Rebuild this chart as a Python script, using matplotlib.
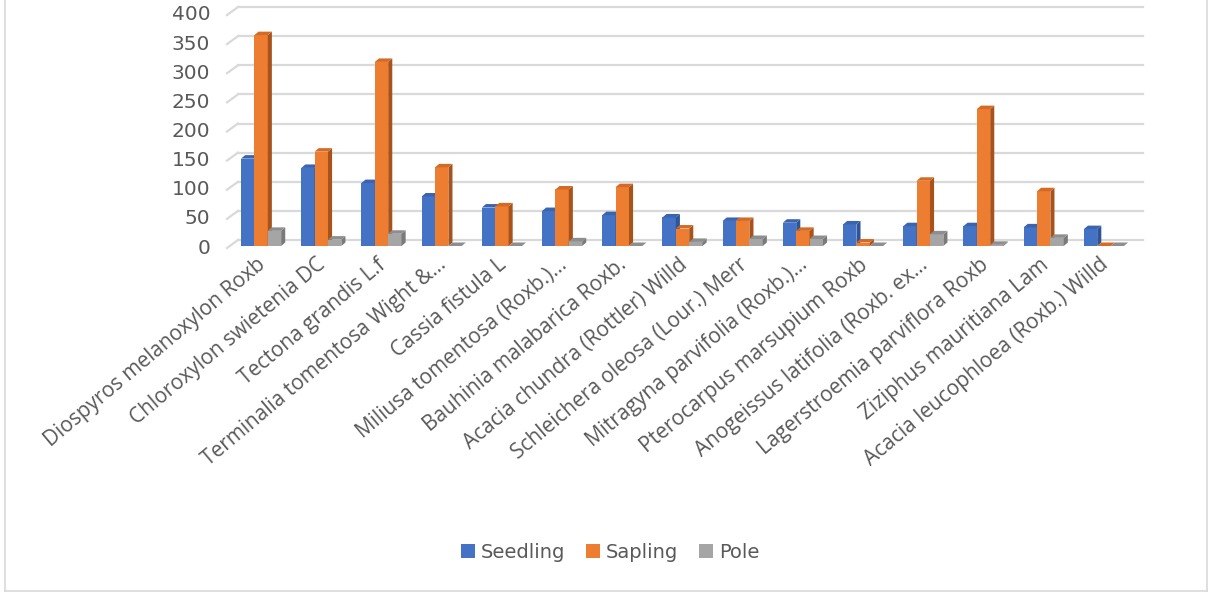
import numpy as np
import matplotlib
matplotlib.use("Agg")
import matplotlib.pyplot as plt
from matplotlib.patches import Polygon, Rectangle
from matplotlib.lines import Line2D
from matplotlib.transforms import ScaledTranslation

species = [
    "Diospyros melanoxylon Roxb",
    "Chloroxylon swietenia DC",
    "Tectona grandis L.f",
    "Terminalia tomentosa Wight &...",
    "Cassia fistula L",
    "Miliusa tomentosa (Roxb.)...",
    "Bauhinia malabarica Roxb.",
    "Acacia chundra (Rottler) Willd",
    "Schleichera oleosa (Lour.) Merr",
    "Mitragyna parvifolia (Roxb.)...",
    "Pterocarpus marsupium Roxb",
    "Anogeissus latifolia (Roxb. ex...",
    "Lagerstroemia parviflora Roxb",
    "Ziziphus mauritiana Lam",
    "Acacia leucophloea (Roxb.) Willd",
]
seedling = [150, 134, 108, 85, 66, 60, 53, 49, 43, 40, 37, 34, 34, 32, 29]
sapling = [362, 162, 316, 135, 68, 97, 101, 30, 43, 26, 6, 112, 235, 94, 0]
pole = [26, 11, 21, 0, 0, 8, 0, 7, 12, 12, 0, 20, 2, 14, 0]
series_names = ["Seedling", "Sapling", "Pole"]
yticks = [0, 50, 100, 150, 200, 250, 300, 350, 400]

# front / side / top colours per series
colors = [("#4472C4", "#2E5597", "#3B64B0"),
          ("#ED7D31", "#A8531C", "#D46A24"),
          ("#A5A5A5", "#7A7A7A", "#8E8E8E")]
txt_col = "#595959"

W, H = 1208, 592
fig = plt.figure(figsize=(W / 100, H / 100), dpi=100)
ax = fig.add_axes([231 / W, (H - 246) / H, (1134 - 231) / W, 233 / H])
ax.set_xlim(-0.5, len(species) - 0.5)
ax.set_ylim(0, 400)

# back-wall gridlines (shifted up/right to fake depth)
px = 1 / 100
back = ax.transData + ScaledTranslation(7 * px, 6 * px, fig.dpi_scale_trans)
front = ax.transData + ScaledTranslation(-4 * px, -2 * px, fig.dpi_scale_trans)
x0, x1 = ax.get_xlim()
for v in yticks:
    ax.add_line(Line2D([x0, x1 + 0.03], [v, v], transform=back, color="#D9D9D9",
                       lw=1.6, clip_on=False, zorder=0))
    p_front = front.transform((x0, v))
    p_back = back.transform((x0, v))
    ax.add_line(Line2D([p_front[0], p_back[0]], [p_front[1], p_back[1]], transform=None,
                       color="#D9D9D9", lw=1.6, clip_on=False, zorder=0))

# 3D-ish columns
bw = 0.222
dx, dy = 0.068, 6.0
x = np.arange(len(species))
for k, vals in enumerate([seedling, sapling, pole]):
    fc, sc, tc = colors[k]
    for i, v in enumerate(vals):
        left = x[i] + (k - 1.5) * bw
        right = left + bw
        if v > 0:
            ax.add_patch(Rectangle((left, 0), bw, v, facecolor=fc, edgecolor="none", zorder=3 + k))
            ax.add_patch(Polygon([(right, 0), (right + dx, dy), (right + dx, v + dy), (right, v)],
                                 closed=True, facecolor=sc, edgecolor="none", zorder=3 + k))
        ax.add_patch(Polygon([(left, v), (right, v), (right + dx, v + dy), (left + dx, v + dy)],
                             closed=True, facecolor=tc, edgecolor="none", zorder=3 + k,
                             clip_on=False))

ax.set_yticks(yticks)
ax.set_yticklabels([str(t) for t in yticks], fontsize=14.5, color=txt_col, family="DejaVu Sans")
ax.set_xticks(x - 0.08)
ax.set_xticklabels(species, rotation=40, ha="right", va="top", rotation_mode="anchor",
                   fontsize=15, color=txt_col, family="Open Sans")
ax.tick_params(axis="both", length=0)
ax.tick_params(axis="y", pad=15)
ax.tick_params(axis="x", pad=6)
for s in ax.spines.values():
    s.set_visible(False)
ax.patch.set_alpha(0)

handles = [Rectangle((0, 0), 1, 1, facecolor=c[0], edgecolor="none") for c in colors]
fig.legend(handles, series_names, loc="center", bbox_to_anchor=(610 / W, 1 - 552 / H),
           ncol=3, frameon=False, handlelength=0.7, handleheight=0.7, handletextpad=0.3,
           columnspacing=1.1, prop={"family": "DejaVu Sans", "size": 14}, labelcolor=txt_col)

# chart border (left, right, bottom)
for xs, ys in [([4.5 / W, 4.5 / W], [0, 1]), ([1206.5 / W, 1206.5 / W], [0, 1]),
               ([4.5 / W, 1206.5 / W], [1.5 / H, 1.5 / H])]:
    fig.add_artist(Line2D(xs, ys, transform=fig.transFigure, color="#D9D9D9", lw=1.2))

fig.savefig("out.png", dpi=100, facecolor="white")
